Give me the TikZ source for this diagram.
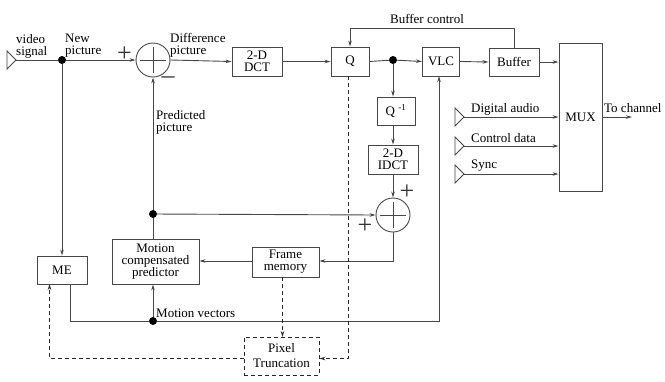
\documentclass[tikz,border=0pt]{standalone}
\usepackage{fontspec}
\setmainfont{Liberation Serif}
\usetikzlibrary{arrows.meta,calc}
\begin{document}
\begin{tikzpicture}[x=1pt,y=-1pt,
  every node/.style={font=\fontsize{13}{12}\selectfont, inner sep=0pt},
  ln/.style={draw=black!72, line width=0.9pt},
  arr/.style={ln, -{Stealth[length=6pt,width=3.5pt]}},
  darr/.style={arr, draw=black!85, dashed, dash pattern=on 4pt off 3pt},
  blk/.style={draw=black!72, line width=0.9pt, rectangle, align=center, fill=white},
  sumc/.style={draw=black!72, line width=0.9pt, circle, minimum size=34pt},
  dotn/.style={circle, fill=black, minimum size=8pt},
  lbl/.style={align=left, anchor=west},
  sgn/.style={font=\fontsize{26}{26}\selectfont, text=black!80},
  tri/.style={draw=black!72, line width=0.9pt}
]
\useasboundingbox (0,0) rectangle (665,381);

% blocks
\node[blk, minimum width=50pt, minimum height=29pt] (dct) at (257,61.5) {2-D\\DCT};
\node[blk, minimum width=38pt, minimum height=29pt] (q) at (350,61.5) {Q};
\node[blk, minimum width=37pt, minimum height=29pt] (vlc) at (441,61.5) {VLC};
\node[blk, minimum width=50pt, minimum height=28pt] (buf) at (514,62) {Buffer};
\node[blk, minimum width=43pt, minimum height=148pt] (mux) at (580.5,117) {MUX};
\node[blk, minimum width=38pt, minimum height=28pt] (qinv) at (396,111) {Q $^{\mbox{\fontsize{9}{9}\selectfont -1}}$};
\node[blk, minimum width=50pt, minimum height=29pt] (idct) at (393,159.5) {2-D\\IDCT};
\node[blk, minimum width=87pt, minimum height=45pt] (mcp) at (155.5,261.5) {Motion\\compensated\\predictor};
\node[blk, minimum width=67pt, minimum height=30pt] (fm) at (285.5,262) {Frame\\memory};
\node[blk, minimum width=50pt, minimum height=28pt] (me) at (62,270) {ME};
\node[blk, draw=black!85, dashed, dash pattern=on 4pt off 3pt, minimum width=75pt, minimum height=38pt] (pix) at (281.5,356) {Pixel\\[3pt]Truncation};

% adders
\node[sumc] (add1) at (153,60) {};
\node[sumc] (add2) at (393,215) {};
\draw[ln] ($(add1)+(-13,0)$) -- ($(add1)+(13,0)$) ($(add1)+(0,-13)$) -- ($(add1)+(0,13)$);
\draw[ln] ($(add2)+(-13,0)$) -- ($(add2)+(13,0)$) ($(add2)+(0,-13)$) -- ($(add2)+(0,13)$);

% junction dots
\node[dotn] (j1) at (62,60) {};
\node[dotn] (j2) at (393,60) {};
\node[dotn] (j3) at (153,214) {};
\node[dotn] (j4) at (153,321) {};

% input triangles
\coordinate (vin) at (16,60);
\draw[tri] (7,51) -- (vin) -- (7,69) -- cycle;
\coordinate (ain) at (464,117);
\coordinate (cin) at (464,146);
\coordinate (sin) at (464,174);
\foreach \c in {ain,cin,sin}{
  \draw[tri] ($(\c)+(-9,-9)$) -- (\c) -- ($(\c)+(-9,9)$) -- cycle;
}
\coordinate (tch) at (632,117);

% main path
\draw[ln] (vin) -- (j1);
\draw[arr] (j1) -- (add1.west);
\draw[arr] (add1.east) -- (dct.west);
\draw[arr] (dct.east) -- (q.west);
\draw[ln] (q.east) -- (j2);
\draw[arr] (j2) -- (vlc.west);
\draw[arr] (vlc.east) -- (buf.west);
\draw[arr] (buf.east) -- (buf.east -| mux.west);
\draw[arr] (buf.north) -- (514,28) -| (q.north);

% inverse path
\draw[arr] (j2) -- (j2 |- qinv.north);
\draw[arr] (qinv.south -| idct) -- (idct.north);
\draw[arr] (idct.south) -- (add2.north);
\draw[arr] (j3) -- (add2.west);
\draw[arr] (j3) -- (add1.south);
\draw[ln] (j3 |- mcp.north) -- (j3);
\draw[arr] (add2.south) -- (393,261) -- (fm.east |- 0,261);
\draw[arr] (fm.west |- 0,261) -- (mcp.east |- 0,261);

% motion estimation
\draw[arr] (j1) -- (j1 |- me.north);
\draw[ln] (70,284) -- (70,321) -- (j4);
\draw[arr] (j4) -- (439,321) -- (439,76);
\draw[arr] (j4) -- (j4 |- mcp.south);

% dashed truncation paths
\coordinate (qd) at (348.5,358.5);
\draw[darr] (qd |- q.south) -- (qd) -- (pix.east |- qd);
\draw[darr] (282.5,277) -- (282.5,337);
\draw[darr] (pix.west |- qd) -- (49.5,358.5) -- (49.5,284);

% mux inputs and output
\draw[arr] (ain) -- (ain -| mux.west);
\draw[arr] (cin) -- (cin -| mux.west);
\draw[arr] (sin) -- (sin -| mux.west);
\draw[arr] (mux.east |- tch) -- (tch);

% labels
\node[lbl] (lvs) at (16,46) {video\\signal};
\node[lbl] (lnp) at (65,46) {New\\picture};
\node[lbl] (ldp) at (170,45) {Difference\\picture};
\node (lbc) at (427,19) {Buffer control};
\node[lbl] (lpp) at (156,122) {Predicted\\picture};
\node[lbl] (lmv) at (156,313) {Motion vectors};
\node[lbl] (lda) at (471,109) {Digital audio};
\node[lbl] (lcd) at (471,138) {Control data};
\node[lbl] (lsy) at (471,166) {Sync};
\node[lbl] (ltc) at (604,108) {To channel};
\node[sgn] (p1) at (124.5,54) {+};
\node[sgn] (m1) at (168,80) {\textendash};
\node[sgn] (p2) at (407,192) {+};
\node[sgn] (p3) at (365,226) {+};
\end{tikzpicture}
\end{document}
